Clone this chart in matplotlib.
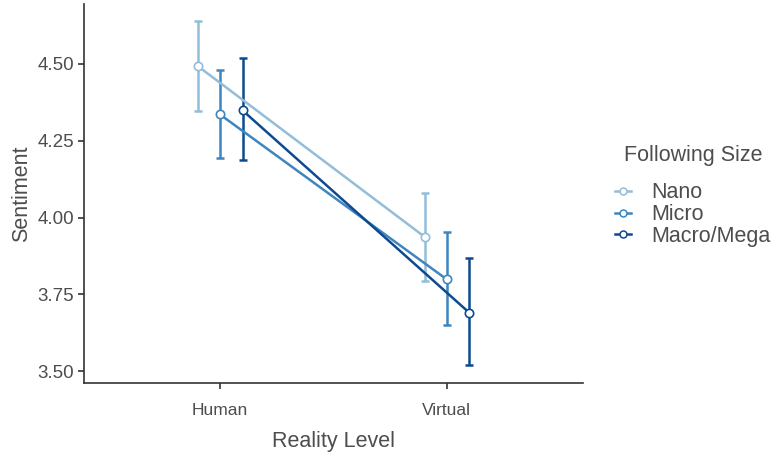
import matplotlib
matplotlib.use("Agg")
import matplotlib.pyplot as plt
from matplotlib.lines import Line2D

plt.rcParams['font.family'] = ['Liberation Sans', 'DejaVu Sans']

# Means and 95% CI bounds by reality level and following size
levels = ["Human", "Virtual"]
groups = ["Nano", "Micro", "Macro/Mega"]
means = {
    "Nano": [4.492, 3.936],
    "Micro": [4.336, 3.799],
    "Macro/Mega": [4.349, 3.690],
}
lower = {
    "Nano": [4.348, 3.792],
    "Micro": [4.193, 3.651],
    "Macro/Mega": [4.187, 3.520],
}
upper = {
    "Nano": [4.639, 4.079],
    "Micro": [4.480, 3.952],
    "Macro/Mega": [4.520, 3.868],
}
colors = {"Nano": "#93bdd9", "Micro": "#3f85bf", "Macro/Mega": "#0d4a8f"}
offsets = {"Nano": -0.095, "Micro": 0.0, "Macro/Mega": 0.1}

fig = plt.figure(figsize=(7.75, 4.55), dpi=100)
ax = fig.add_axes([0.108, 0.158, 0.644, 0.833])

text_col = "#4d4d4d"
for g in groups:
    xs = [i + 1 + offsets[g] for i in range(len(levels))]
    m = means[g]
    yerr = [[mm - lo for mm, lo in zip(m, lower[g])],
            [up - mm for mm, up in zip(m, upper[g])]]
    ax.errorbar(xs, m, yerr=yerr, fmt="none", ecolor=colors[g],
                elinewidth=1.8, capsize=2.6, capthick=1.8, zorder=2)
    ax.plot(xs, m, color=colors[g], lw=1.8, marker="o", ms=6,
            mfc="white", mec=colors[g], mew=1.2, zorder=3)

ax.set_xlim(0.4, 2.6)
ax.set_ylim(3.461, 4.695)
ax.set_xticks([1, 2])
ax.set_xticklabels(levels)
ax.set_yticks([3.50, 3.75, 4.00, 4.25, 4.50])
ax.set_yticklabels(["3.50", "3.75", "4.00", "4.25", "4.50"])

for s in ["top", "right"]:
    ax.spines[s].set_visible(False)
for s in ["left", "bottom"]:
    ax.spines[s].set_color("#333333")
    ax.spines[s].set_linewidth(1.2)
ax.tick_params(axis="both", colors="#333333", width=1.2, length=4,
               labelcolor=text_col)
ax.tick_params(axis="y", labelsize=13.5, pad=3)
ax.tick_params(axis="x", labelsize=12.5, pad=10)

ax.set_xlabel("Reality Level", fontsize=15.5, color=text_col, labelpad=10)
ax.set_ylabel("Sentiment", fontsize=15.5, color=text_col, labelpad=4)

handles = [Line2D([0], [0], color=colors[g], lw=1.8, marker="o", ms=5,
                  mfc="white", mec=colors[g], mew=1.1) for g in groups]
leg = fig.legend(handles, groups,
                 loc="upper left", bbox_to_anchor=(0.794, 0.599),
                 frameon=False, fontsize=15.5,
                 handlelength=0.75, handletextpad=0.9, labelspacing=0.03,
                 borderaxespad=0.0, borderpad=0.0)
for t in leg.get_texts():
    t.set_color(text_col)
fig.text(0.805, 0.659, "Following Size", fontsize=15.5, color=text_col,
         ha="left", va="center")

fig.savefig("out.png", dpi=100)
